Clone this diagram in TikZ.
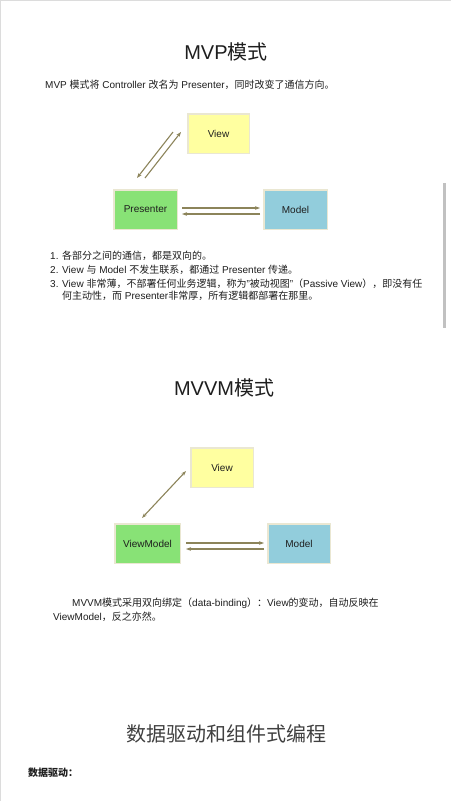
\documentclass[tikz,border=0pt]{standalone}
\usepackage{fontspec}
\setmainfont{Liberation Sans}
\newfontfamily\cjk{Noto Sans CJK SC}
\usetikzlibrary{arrows.meta}
\newcommand\zh[1]{{\cjk #1}}
\definecolor{viewc}{RGB}{255,255,160}
\definecolor{presc}{RGB}{136,226,118}
\definecolor{modelc}{RGB}{146,205,220}
\definecolor{borderc}{RGB}{234,231,210}
\definecolor{arrc}{RGB}{140,132,90}
\definecolor{textc}{RGB}{30,30,30}
\definecolor{pagec}{RGB}{220,220,220}
\definecolor{scrollc}{RGB}{193,193,193}
\tikzset{
  box/.style={draw=borderc,line width=1.5pt,minimum height=39.5pt,inner sep=0pt,
    font=\fontsize{10}{12}\selectfont,text=textc},
  body/.style={anchor=west,inner sep=0pt,font=\fontsize{10}{12}\selectfont,text=textc},
  bigtitle/.style={inner sep=0pt,font=\fontsize{20}{24}\selectfont,text=textc},
  arr/.style={draw=arrc,line width=1.1pt,-{Stealth[length=5pt,width=3.6pt]}},
  darr/.style={draw=arrc,line width=1.1pt,{Stealth[length=5pt,width=3.6pt]}-{Stealth[length=5pt,width=3.6pt]}}
}
\begin{document}
\begin{tikzpicture}[x=1pt,y=-1pt]
\useasboundingbox (0,0) rectangle (451,801);
\fill[white] (0,0) rectangle (451,801);
\draw[pagec,line width=1pt] (0.5,801) -- (0.5,0.5) -- (451,0.5);
\fill[scrollc] (443,183) rectangle (446,328);

% ---- MVP ----
\node[bigtitle] (t1) at (226,52) {MVP\zh{模式}};
\node[body] (p1) at (45,85) {MVP \zh{模式将} Controller \zh{改名为} Presenter\zh{，同时改变了通信方向。}};

\node[box,fill=viewc,minimum width=61.5pt] (v1) at (218.5,133.5) {View};
\node[box,fill=presc,minimum width=63.5pt] (pr1) at (145.5,209.5) {Presenter};
\node[box,fill=modelc,minimum width=63.5pt] (m1) at (295.5,209.5) {Model};

\draw[arr] ([xshift=-14pt,yshift=1.5pt]v1.west) -- ([xshift=-8.5pt,yshift=11pt]pr1.north);
\draw[arr] ([xshift=-0.5pt,yshift=11pt]pr1.north) -- ([xshift=-6pt,yshift=1.5pt]v1.west);
\draw[arr] ([xshift=4pt,yshift=1.5pt]pr1.east) -- ([xshift=-3pt,yshift=1.5pt]m1.west);
\draw[arr] ([xshift=-3pt,yshift=-4.5pt]m1.west) -- ([xshift=4pt,yshift=-4.5pt]pr1.east);

\node[body] (l1) at (50,256) {1. \zh{各部分之间的通信，都是双向的。}};
\node[body] (l2) at (50,270) {2. View \zh{与} Model \zh{不发生联系，都通过} Presenter \zh{传递。}};
\node[body] (l3) at (50,284) {3. View \zh{非常薄，不部署任何业务逻辑，称为}"\zh{被动视图}"\zh{（}Passive View\zh{），即没有任}};
\node[body] (l4) at (62,296) {\zh{何主动性，而} Presenter\zh{非常厚，所有逻辑都部署在那里。}};

% ---- MVVM ----
\node[bigtitle] (t2) at (224,388) {MVVM\zh{模式}};

\node[box,fill=viewc,minimum width=62.5pt] (v2) at (222,467.5) {View};
\node[box,fill=presc,minimum width=65.5pt] (vm2) at (147.5,543.5) {ViewModel};
\node[box,fill=modelc,minimum width=62.5pt] (m2) at (299,543.5) {Model};

\draw[darr] ([xshift=-5.5pt,yshift=5pt]vm2.north) -- ([xshift=-4pt,yshift=-3.5pt]v2.west);
\draw[arr] ([xshift=5pt,yshift=0.5pt]vm2.east) -- ([xshift=-3pt,yshift=0.5pt]m2.west);
\draw[arr] ([xshift=-3pt,yshift=-5.5pt]m2.west) -- ([xshift=5pt,yshift=-5.5pt]vm2.east);

\node[body] (q1) at (72,603.5) {MVVM\zh{模式采用双向绑定（}data-binding\zh{）：}View\zh{的变动，自动反映在}};
\node[body] (q2) at (53,616.5) {ViewModel\zh{，反之亦然。}};

% ---- data driven ----
\node[bigtitle,text=black!75] (t3) at (226,734) {\zh{数据驱动和组件式编程}};
\node[body] (d1) at (28,773) {\zh{\bfseries 数据驱动：}};
\end{tikzpicture}
\end{document}
